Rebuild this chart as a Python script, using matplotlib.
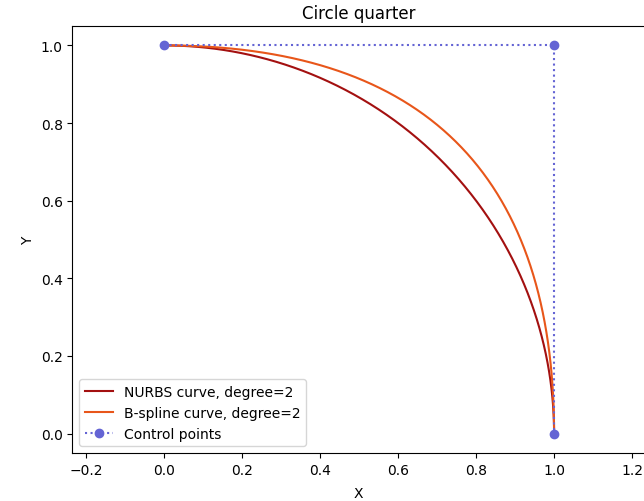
import numpy as np
import matplotlib
matplotlib.use("Agg")
import matplotlib.pyplot as plt

# Control polygon and weights
ctrl_x = [0.0, 1.0, 1.0]
ctrl_y = [1.0, 1.0, 0.0]
nurbs_weights = [1.0, np.sqrt(2) / 2, 1.0]
bspline_weights = [1.0, 1.0, 1.0]
degree = 2


def eval_curve(px, py, w, n=200):
    t = np.linspace(0, 1, n)
    B = np.vstack([(1 - t) ** 2, 2 * t * (1 - t), t ** 2])
    w = np.asarray(w)[:, None]
    den = (B * w).sum(axis=0)
    x = (B * w * np.asarray(px)[:, None]).sum(axis=0) / den
    y = (B * w * np.asarray(py)[:, None]).sum(axis=0) / den
    return x, y


fig = plt.figure(figsize=(6.44, 5.02), dpi=100)
ax = fig.add_axes([0.1125, 0.0956, 0.889, 0.8506])

nx, ny = eval_curve(ctrl_x, ctrl_y, nurbs_weights)
bx, by = eval_curve(ctrl_x, ctrl_y, bspline_weights)

ax.plot(nx, ny, color="#a31010", lw=1.5, label=f"NURBS curve, degree={degree}")
ax.plot(bx, by, color="#e8561a", lw=1.5, label=f"B-spline curve, degree={degree}")
ax.plot(ctrl_x, ctrl_y, ":o", color="#6464d4", lw=1.5, ms=6, label="Control points")

ax.set_xlim(-0.235, 1.233)
ax.set_ylim(-0.05, 1.05)
ax.set_xticks([-0.2, 0.0, 0.2, 0.4, 0.6, 0.8, 1.0, 1.2])
ax.set_title("Circle quarter")
ax.set_xlabel("X", labelpad=7)
ax.set_ylabel("Y")
ax.legend(loc="lower left")

fig.savefig("out.png", dpi=100)
